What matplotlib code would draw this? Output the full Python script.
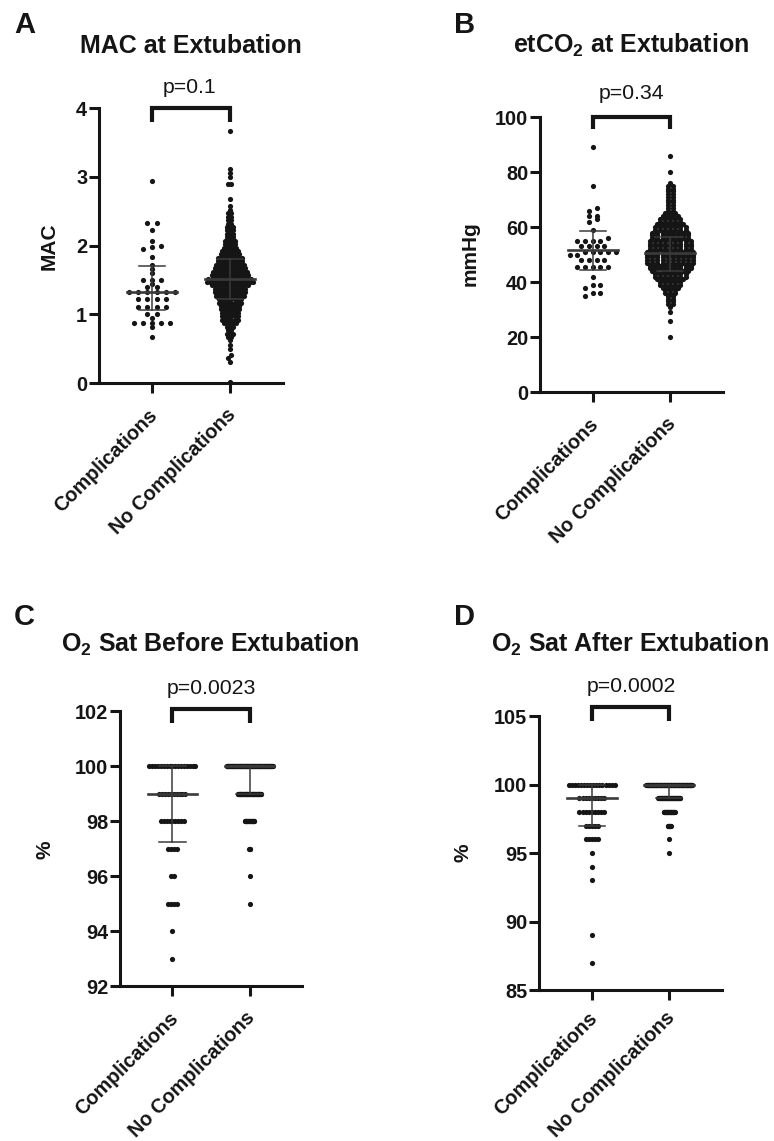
import numpy as np
import matplotlib.pyplot as plt
from matplotlib import transforms

plt.rcParams['font.family'] = ['Liberation Sans', 'DejaVu Sans']
plt.rcParams['mathtext.fontset'] = 'custom'
plt.rcParams['mathtext.rm'] = 'Liberation Sans'
plt.rcParams['mathtext.bf'] = 'Liberation Sans:bold'

groups = ['Complications', 'No Complications']

# A: MAC at extubation
mac_comp = [2.94, 2.33, 2.33, 2.22, 2.06, 1.99, 1.98, 1.95, 1.83, 1.72, 1.66, 1.60,
            1.50, 1.50, 1.50, 1.44, 1.39, 1.39, 1.33, 1.33, 1.33, 1.33, 1.33, 1.33,
            1.22, 1.22, 1.22, 1.22, 1.11, 1.11, 1.11, 1.11, 1.00, 1.00, 0.95,
            0.88, 0.88, 0.88, 0.88, 0.88, 0.81, 0.67]
mac_nc_levels = [3.67, 3.11, 3.05, 2.99, 2.90, 2.68, 2.57, 2.52, 2.47, 2.42, 2.37, 2.32,
                 2.27, 2.22, 2.17, 2.12, 2.07, 2.02, 1.97, 1.92, 1.87, 1.82, 1.77, 1.72,
                 1.67, 1.62, 1.57, 1.52, 1.47, 1.42, 1.37, 1.32, 1.27, 1.22, 1.17, 1.12,
                 1.07, 1.02, 0.97, 0.92, 0.87, 0.82, 0.77, 0.72, 0.67, 0.62, 0.55, 0.49,
                 0.41, 0.37, 0.30, 0.02]
mac_nc_counts = [1, 1, 1, 1, 2, 1, 1, 1, 2, 2, 2, 2,
                 3, 3, 3, 3, 4, 4, 5, 6, 7, 9, 9, 10,
                 11, 12, 13, 15, 16, 13, 11, 11, 10, 8, 8, 7,
                 7, 6, 6, 6, 5, 3, 2, 3, 2, 1, 1, 1,
                 1, 1, 1, 1]
mac_med = [1.33, 1.51]
mac_q1 = [1.06, 1.22]
mac_q3 = [1.70, 1.80]

# B: etCO2 at extubation
co2_comp = [89, 75, 67, 66, 64, 64, 63, 62, 59, 56, 55, 55, 55, 55, 53, 53, 53, 53,
            51, 51, 51, 51, 51, 50, 50, 48, 48, 48, 48, 45.5, 45.5, 45.5, 45.5, 45.5,
            42, 39, 39, 38, 36, 36, 35]
co2_nc_levels = [86, 80, 76, 75, 74, 73, 72, 71, 70, 69, 68, 67, 66, 65, 64, 63, 62, 61,
                 60, 59, 58, 57, 56, 55, 54, 53, 52, 51, 50, 49, 48, 47, 46, 45, 44, 43,
                 42, 41, 40, 39, 38, 37, 36, 35, 34, 33, 32, 31, 29, 26, 20]
co2_nc_counts = [1, 1, 1, 2, 2, 2, 2, 2, 2, 2, 2, 2, 2, 3, 4, 5, 5, 6,
                 7, 7, 8, 8, 8, 9, 9, 9, 9, 10, 10, 10, 10, 10, 9, 9, 8, 7,
                 7, 6, 5, 5, 4, 3, 3, 2, 2, 2, 2, 1, 1, 1, 1]
co2_med = [51.5, 50.5]
co2_q1 = [44.4, 44.0]
co2_q3 = [58.5, 56.5]

# C: O2 sat before extubation
o2b_levels = [100, 99, 98, 97, 96, 95, 94, 93]
o2b_comp_counts = [17, 10, 9, 4, 2, 4, 1, 1]
o2b_nc_counts = [100, 52, 22, 3, 1, 1, 0, 0]
o2b_med = [99, 100]
o2b_q1 = [97.25, 99]
o2b_q3 = [100, 100]

# D: O2 sat after extubation
o2a_levels = [100, 99, 98, 97, 96, 95, 94, 93, 89, 87]
o2a_comp_counts = [16, 9, 9, 5, 5, 1, 1, 1, 1, 1]
o2a_nc_counts = [105, 50, 25, 7, 1, 1, 0, 0, 0, 0]
o2a_med = [99, 100]
o2a_q1 = [97, 99]
o2a_q3 = [100, 100]

W, H, DPI = 774, 1141, 100
ink = '#151515'
barc = '#3a3a3a'
fig = plt.figure(figsize=(W / DPI, H / DPI), dpi=DPI)


def fx(px):
    return px / W


def fy(py):
    return 1 - py / H


def swarm(values, center, binh, px_per_x, maxw=46.0, step=9.5):
    # bin values into rows and spread each row sideways (prism-style scatter)
    vals = np.sort(np.asarray(values, float))
    rows, s = [], 0
    for i in range(1, len(vals) + 1):
        if i == len(vals) or vals[i] - vals[s] > binh:
            rows.append((s, i))
            s = i
    nmax = max(e - b for b, e in rows)
    dx = min(step, maxw / max(nmax - 1, 1)) / px_per_x
    xs = np.empty(len(vals))
    for b, e in rows:
        n = e - b
        xs[b:e] = center + (np.arange(n) - (n - 1) / 2) * dx
    return xs, vals


def panel(rect, comp, nc, med, q1, q3, ylim, yticks, binh, br, lab_dy=-7):
    ax = fig.add_axes(rect)
    xlim = (-0.68, 1.68)
    ax.set_xlim(*xlim)
    ax.set_ylim(*ylim)
    px_x = rect[2] * W / (xlim[1] - xlim[0])
    for i, (vals, bh) in enumerate(zip([comp, nc], binh)):
        xs, ys = swarm(vals, i, bh, px_x)
        ax.scatter(xs, ys, s=14, c=ink, linewidths=0, zorder=2, clip_on=False)
    for i in range(2):
        ax.plot([i - 0.32, i + 0.32], [med[i], med[i]], color=barc, lw=1.9, zorder=3)
        ax.plot([i, i], [q1[i], q3[i]], color=barc, lw=1.1, zorder=3)
        for q in (q1[i], q3[i]):
            ax.plot([i - 0.17, i + 0.17], [q, q], color=barc, lw=1.1, zorder=3)
    for sp in ['top', 'right']:
        ax.spines[sp].set_visible(False)
    for sp in ['left', 'bottom']:
        ax.spines[sp].set_linewidth(2.2)
        ax.spines[sp].set_color(ink)
    ax.set_yticks(yticks, [str(t) for t in yticks], fontweight='bold', fontsize=14.3)
    ax.set_xticks([0, 1], groups, rotation=45, ha='right', rotation_mode='anchor',
                  fontweight='bold', fontsize=14.3)
    ax.tick_params(axis='both', length=7, width=2.2, color=ink, labelcolor=ink)
    ax.tick_params(axis='y', pad=1.5)
    ax.tick_params(axis='x', pad=4)
    shift = transforms.ScaledTranslation(-4 / DPI, lab_dy / DPI, fig.dpi_scale_trans)
    for lab in ax.get_xticklabels():
        lab.set_transform(lab.get_transform() + shift)
    trans = transforms.blended_transform_factory(ax.transData, ax.transAxes)
    ax.plot([0, 0, 1, 1], [br[0], br[1], br[1], br[0]], transform=trans, lw=3,
            color=ink, clip_on=False, solid_joinstyle='miter', solid_capstyle='butt')
    return ax


# panel A
panel([0.1279, 0.6643, 0.2377, 0.2410], mac_comp,
      np.repeat(mac_nc_levels, mac_nc_counts), mac_med, mac_q1, mac_q3,
      (0, 4), [0, 1, 2, 3, 4], [0.045, 0.045], (0.949, 1.0))
# panel B
panel([0.6977, 0.6564, 0.2364, 0.2410], co2_comp,
      np.repeat(co2_nc_levels, co2_nc_counts), co2_med, co2_q1, co2_q3,
      (0, 100), [0, 20, 40, 60, 80, 100], [1.6, 0.9], (0.956, 1.0))
# panel C
panel([0.1550, 0.1358, 0.2351, 0.2410], np.repeat(o2b_levels, o2b_comp_counts),
      np.repeat(o2b_levels, o2b_nc_counts), o2b_med, o2b_q1, o2b_q3,
      (92, 102), [92, 94, 96, 98, 100, 102], [0.5, 0.5], (0.956, 1.006))
# panel D
panel([0.6964, 0.1323, 0.2364, 0.2401], np.repeat(o2a_levels, o2a_comp_counts),
      np.repeat(o2a_levels, o2a_nc_counts), o2a_med, o2a_q1, o2a_q3,
      (85, 105), [85, 90, 95, 100, 105], [0.5, 0.5], (0.983, 1.033), lab_dy=-3)

titles = ['MAC at Extubation', r'etCO$_\mathbf{2}$ at Extubation',
          r'O$_\mathbf{2}$ Sat Before Extubation', r'O$_\mathbf{2}$ Sat After Extubation']
title_pos = [(190.5, 53), (631, 53), (210, 652), (630, 652)]
letters = ['A', 'B', 'C', 'D']
letter_pos = [(14, 33), (454, 33), (14, 625), (454, 625)]
ylabels = ['MAC', 'mmHg', '%', '%']
ylabel_pos = [(49, 246), (470, 254), (45, 850), (463, 853)]
ptexts = ['p=0.1', 'p=0.34', 'p=0.0023', 'p=0.0002']
ptext_pos = [(189, 93), (631, 99), (211.5, 694), (631, 692)]

for k in range(4):
    fig.text(fx(title_pos[k][0]), fy(title_pos[k][1]), titles[k], ha='center',
             va='baseline', fontsize=18, fontweight='bold', color=ink)
    fig.text(fx(letter_pos[k][0]), fy(letter_pos[k][1]), letters[k], ha='left',
             va='baseline', fontsize=21, fontweight='bold', color=ink)
    fig.text(fx(ylabel_pos[k][0]), fy(ylabel_pos[k][1]), ylabels[k], ha='center',
             va='center', rotation=90, fontsize=15, fontweight='bold', color=ink)
    fig.text(fx(ptext_pos[k][0]), fy(ptext_pos[k][1]), ptexts[k], ha='center',
             va='baseline', fontsize=15.3, color=ink)

fig.savefig('out.png', dpi=DPI)
